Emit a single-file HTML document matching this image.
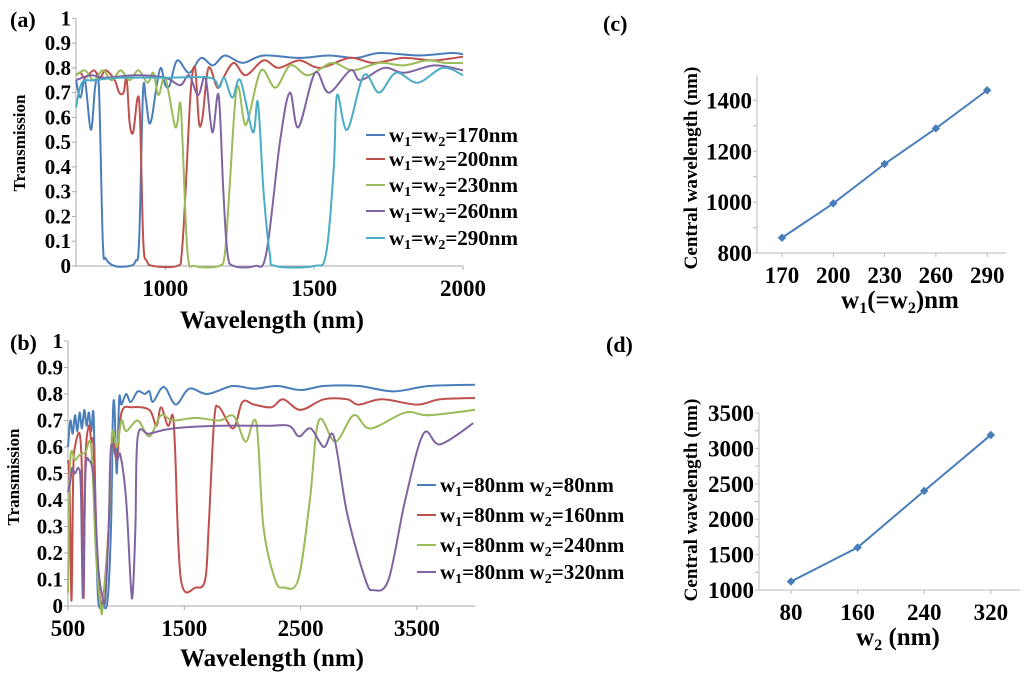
<!DOCTYPE html>
<html><head><meta charset="utf-8"><style>
body{margin:0;background:#fff;}
svg{display:block;}
text{font-family:"Liberation Serif",serif;font-weight:bold;}
</style></head><body>
<svg id="fig" width="1024" height="677" viewBox="0 0 1024 677"></svg>
<script>
// ---- panel (a) data: [wavelength, transmission]
const aBlue=[[700,0.75],[715,0.68],[730,0.75],[750,0.55],[765,0.73],[777,0.72],[790,0.1],[800,0.03],[830,0],[880,0],[900,0.02],[912,0.1],[925,0.7],[935,0.67],[945,0.58],[955,0.6],[970,0.72],[985,0.8],[1000,0.73],[1015,0.73],[1040,0.83],[1080,0.78],[1120,0.84],[1160,0.81],[1200,0.85],[1260,0.82],[1330,0.85],[1450,0.84],[1550,0.85],[1640,0.84],[1720,0.86],[1850,0.85],[1960,0.86],[2000,0.855]];
const aRed=[[700,0.77],[715,0.78],[730,0.76],[760,0.79],[780,0.76],[800,0.79],[830,0.75],[845,0.7],[860,0.7],[870,0.76],[880,0.58],[892,0.54],[907,0.68],[915,0.6],[926,0.1],[938,0.02],[960,0],[1040,0],[1055,0.05],[1068,0.3],[1085,0.7],[1100,0.8],[1113,0.58],[1125,0.6],[1145,0.8],[1175,0.72],[1195,0.76],[1230,0.82],[1270,0.77],[1330,0.83],[1380,0.8],[1450,0.83],[1520,0.8],[1620,0.84],[1700,0.82],[1800,0.84],[1900,0.83],[2000,0.845]];
const aGreen=[[700,0.77],[730,0.79],[760,0.75],[790,0.79],[820,0.75],[850,0.79],[880,0.75],[910,0.79],[940,0.74],[960,0.78],[977,0.69],[1000,0.76],[1034,0.56],[1050,0.66],[1058,0.5],[1075,0.05],[1100,0],[1180,0],[1200,0.05],[1215,0.3],[1240,0.72],[1265,0.58],[1280,0.6],[1322,0.79],[1370,0.72],[1420,0.81],[1480,0.77],[1560,0.82],[1630,0.79],[1720,0.82],[1800,0.81],[1880,0.83],[1940,0.82],[2000,0.82]];
const aPurple=[[700,0.75],[750,0.77],[800,0.76],[900,0.77],[1000,0.76],[1050,0.73],[1080,0.77],[1110,0.69],[1135,0.76],[1158,0.54],[1179,0.69],[1195,0.3],[1209,0.05],[1230,0],[1300,0],[1339,0.05],[1385,0.5],[1418,0.7],[1447,0.56],[1503,0.78],[1549,0.7],[1622,0.79],[1656,0.75],[1735,0.8],[1803,0.78],[1905,0.81],[2000,0.79]];
const aCyan=[[700,0.64],[720,0.74],[760,0.75],[850,0.76],[1000,0.76],[1150,0.76],[1180,0.72],[1198,0.76],[1225,0.68],[1252,0.75],[1294,0.54],[1311,0.66],[1330,0.3],[1351,0.05],[1370,0],[1500,0],[1540,0.05],[1566,0.4],[1577,0.69],[1611,0.55],[1667,0.77],[1718,0.7],[1775,0.78],[1848,0.74],[1932,0.8],[2000,0.77]];
// ---- panel (b) data
const bBlue=[[500,0.6],[520,0.7],[540,0.65],[560,0.72],[580,0.66],[600,0.73],[620,0.67],[640,0.74],[660,0.68],[680,0.73],[700,0.66],[720,0.72],[740,0.3],[760,0.02],[800,0],[840,0.02],[870,0.3],[886,0.72],[900,0.75],[920,0.5],[940,0.78],[960,0.76],[1000,0.8],[1040,0.77],[1100,0.81],[1160,0.8],[1200,0.81],[1229,0.77],[1300,0.82],[1343,0.82],[1429,0.76],[1543,0.82],[1700,0.8],[1914,0.83],[2100,0.82],[2300,0.83],[2500,0.815],[2700,0.83],[3000,0.83],[3300,0.81],[3600,0.83],[4000,0.835]];
const bRed=[[500,0.55],[515,0.45],[530,0.02],[545,0.5],[560,0.6],[600,0.65],[620,0.5],[634,0.03],[650,0.55],[680,0.68],[700,0.62],[720,0.6],[750,0.2],[770,0.05],[800,0.02],[850,0.3],[880,0.65],[920,0.55],[960,0.73],[1050,0.75],[1200,0.74],[1260,0.68],[1300,0.75],[1360,0.68],[1400,0.72],[1420,0.6],[1471,0.1],[1600,0.07],[1680,0.1],[1710,0.3],[1757,0.7],[1800,0.75],[1920,0.67],[2000,0.77],[2100,0.76],[2250,0.75],[2350,0.78],[2500,0.74],[2700,0.78],[2900,0.78],[3000,0.76],[3200,0.78],[3500,0.76],[3700,0.78],[4000,0.785]];
const bGreen=[[500,0.05],[520,0.55],[560,0.55],[600,0.57],[650,0.58],[700,0.6],[740,0.2],[780,0],[800,0],[850,0.3],[880,0.65],[920,0.6],[960,0.7],[1000,0.66],[1100,0.7],[1200,0.64],[1300,0.72],[1400,0.7],[1600,0.71],[1800,0.7],[1900,0.72],[1950,0.7],[2029,0.62],[2120,0.69],[2180,0.3],[2280,0.1],[2357,0.07],[2480,0.1],[2580,0.4],[2657,0.7],[2800,0.62],[2957,0.72],[3100,0.67],[3400,0.73],[3600,0.72],[4000,0.74]];
const bPurple=[[500,0.43],[520,0.47],[535,0.52],[560,0.5],[590,0.52],[610,0.45],[629,0.03],[650,0.5],[680,0.55],[720,0.48],[760,0.15],[790,0.05],[820,0.02],[850,0.3],[870,0.6],[920,0.55],[950,0.57],[1000,0.4],[1040,0.08],[1057,0.05],[1080,0.3],[1100,0.64],[1200,0.65],[1400,0.67],[1800,0.68],[2200,0.68],[2400,0.68],[2486,0.64],[2586,0.67],[2700,0.6],[2786,0.64],[2900,0.35],[3057,0.1],[3129,0.06],[3257,0.1],[3400,0.4],[3557,0.65],[3700,0.61],[3986,0.69]];
// ---- panel (c),(d)
const cX=[170,200,230,260,290];
const cY=[860,995,1150,1290,1440];
const dX=[80,160,240,320];
const dY=[1120,1600,2400,3190];
const tY=[0,0.1,0.2,0.3,0.4,0.5,0.6,0.7,0.8,0.9,1];
const aTicks=[1000,1500,2000];
const bTicks=[500,1500,2500,3500];
const cTicksY=[800,1000,1200,1400];
const dTicksY=[1000,1500,2000,2500,3000,3500];
const aLegend=['170','200','230','260','290'];
const bLegend=['80','160','240','320'];

const NS='http://www.w3.org/2000/svg';
const svg=document.getElementById('fig');
const col={blue:'#4a7ebb',red:'#c0504d',green:'#9bbb59',purple:'#8064a2',cyan:'#4bacc6'};
function mk(tag,attrs,parent){const e=document.createElementNS(NS,tag);for(const k in attrs)e.setAttribute(k,attrs[k]);(parent||svg).appendChild(e);return e;}
function lin(d0,d1,r0,r1){return v=>r0+(v-d0)/(d1-d0)*(r1-r0);}
function txt(x,y,s,size,anchor,name,parent){const t=mk('text',{x:x,y:y,'font-size':size,'text-anchor':anchor||'middle',fill:'#000','font-family':'Liberation Serif, serif','font-weight':'bold'},parent);t.innerHTML=s;return t;}
function smooth(pts){let d='M'+pts[0][0]+','+pts[0][1];for(let i=0;i<pts.length-1;i++){const p0=pts[Math.max(0,i-1)],p1=pts[i],p2=pts[i+1],p3=pts[Math.min(pts.length-1,i+2)];const k=1/6;
 const c1=[p1[0]+(p2[0]-p0[0])*k,p1[1]+(p2[1]-p0[1])*k],c2=[p2[0]-(p3[0]-p1[0])*k,p2[1]-(p3[1]-p1[1])*k];d+=' C'+c1+' '+c2+' '+p2;}return d;}

function spectrum(id,x0,x1,px0,px1,py0,py1,xt,series,legend,legY,legX){
  const g=mk('g',{});
  
  
  const X=lin(x0,x1,px0,px1),Y=lin(0,1,py0,py1);
  mk('line',{x1:px0,y1:py0,x2:px0,y2:py1,stroke:'#aaa','stroke-width':1},g);
  mk('line',{x1:px0,y1:py0,x2:px1,y2:py0,stroke:'#aaa','stroke-width':1},g);
  tY.forEach(v=>{mk('line',{x1:px0,x2:px0-4,y1:Y(v),y2:Y(v),stroke:'#aaa'},g);txt(px0-5,Y(v)+7,String(v),21,'end','y-tick-label',g);});
  xt.forEach(v=>{mk('line',{x1:X(v),x2:X(v),y1:py0,y2:py0+4,stroke:'#aaa'},g);txt(X(v),py0+30,String(v),23,'middle','x-tick-label',g);});
  series.forEach((s,i)=>{
    const p=mk('path',{d:smooth(s.d.map(q=>[X(q[0]),Y(q[1])])),fill:'none',stroke:s.c,'stroke-width':2,'stroke-linejoin':'round'},g);
    
    
    const ly=legY[i];
    mk('line',{x1:legX,x2:legX+19,y1:ly,y2:ly,stroke:s.c,'stroke-width':2},g);
    txt(legX+23,ly+7,legend[i],21,'start','legend-entry',g);
  });
}
spectrum('panel-a',700,2000,76,463,266,18.3,aTicks,
 [{d:aBlue,c:col.blue,n:'170nm'},{d:aRed,c:col.red,n:'200nm'},{d:aGreen,c:col.green,n:'230nm'},{d:aPurple,c:col.purple,n:'260nm'},{d:aCyan,c:col.cyan,n:'290nm'}],
 aLegend.map(v=>'w<tspan font-size="14" dy="4">1</tspan><tspan dy="-4">=w</tspan><tspan font-size="14" dy="4">2</tspan><tspan dy="-4">='+v+'nm</tspan>'),
 [135,159,185,211,238],366);
spectrum('panel-b',500,4000,68,475,606,341,bTicks,
 [{d:bBlue,c:col.blue,n:'w2-80'},{d:bRed,c:col.red,n:'w2-160'},{d:bGreen,c:col.green,n:'w2-240'},{d:bPurple,c:col.purple,n:'w2-320'}],
 bLegend.map(v=>'w<tspan font-size="14" dy="4">1</tspan><tspan dy="-4">=80nm w</tspan><tspan font-size="14" dy="4">2</tspan><tspan dy="-4">='+v+'nm</tspan>'),
 [485,515,545,572],417);

txt(10,27,'(a)',22,'start','panel-a-label');
txt(10,350,'(b)',22,'start','panel-b-label');
txt(272,328,'Wavelength (nm)',25,'middle','panel-a-x-title');
txt(272,666,'Wavelength (nm)',25,'middle','panel-b-x-title');
let t=txt(0,0,'Transmission',17,'middle','panel-a-y-title');t.setAttribute('transform','translate(25,143) rotate(-90)');
t=txt(0,0,'Transmission',17,'middle','panel-b-y-title');t.setAttribute('transform','translate(19,477) rotate(-90)');

function scatter(id,xs,ys,xd0,xd1,px0,px1,yd0,yd1,py0,py1,yt,xt){
  const g=mk('g',{});
  
  
  const X=lin(xd0,xd1,px0,px1),Y=lin(yd0,yd1,py0,py1);
  mk('line',{x1:px0,y1:py0,x2:px0,y2:py1,stroke:'#bbb'},g);
  mk('line',{x1:px0,y1:py0,x2:px1,y2:py0,stroke:'#bbb'},g);
  yt.forEach((v,i)=>{mk('line',{x1:px0,x2:px0-4,y1:Y(v),y2:Y(v),stroke:'#bbb'},g);txt(px0-5,Y(v)+8,String(v),23,'end','y-tick-label',g);
    if(i<yt.length-1){const m=(v+yt[i+1])/2;mk('line',{x1:px0,x2:px0-4,y1:Y(m),y2:Y(m),stroke:'#bbb'},g);}});
  xt.forEach(v=>{mk('line',{x1:X(v),x2:X(v),y1:py0,y2:py0+4,stroke:'#bbb'},g);txt(X(v),py0+30,String(v),23,'middle','x-tick-label',g);});
  const p=mk('polyline',{points:xs.map((x,i)=>X(x)+','+Y(ys[i])).join(' '),fill:'none',stroke:col.blue,'stroke-width':2},g);
  
  
  xs.forEach((x,i)=>{const c=mk('rect',{x:X(x)-3,y:Y(ys[i])-3,width:6,height:6,fill:col.blue,transform:'rotate(45 '+X(x)+' '+Y(ys[i])+')'},g);
    
    });
}
scatter('panel-c',cX,cY,155.4,301,757,1006,800,1500,253,75,cTicksY,cX);
scatter('panel-d',dX,dY,41.6,355,759,1020,1000,3500,590,413,dTicksY,dX);
txt(603,31,'(c)',22,'start','panel-c-label');
txt(606,352,'(d)',22,'start','panel-d-label');
t=txt(0,0,'Central wavelength (nm)',19,'middle','panel-c-y-title');t.setAttribute('transform','translate(697,168) rotate(-90)');
t=txt(0,0,'Central wavelength (nm)',19,'middle','panel-d-y-title');t.setAttribute('transform','translate(697,500) rotate(-90)');
txt(900,308,'w<tspan font-size="16" dy="5">1</tspan><tspan dy="-5">(=w</tspan><tspan font-size="16" dy="5">2</tspan><tspan dy="-5">)nm</tspan>',25,'middle','panel-c-x-title');
txt(898,645,'w<tspan font-size="16" dy="5">2</tspan><tspan dy="-5"> (nm)</tspan>',25,'middle','panel-d-x-title');
</script>
</body></html>
